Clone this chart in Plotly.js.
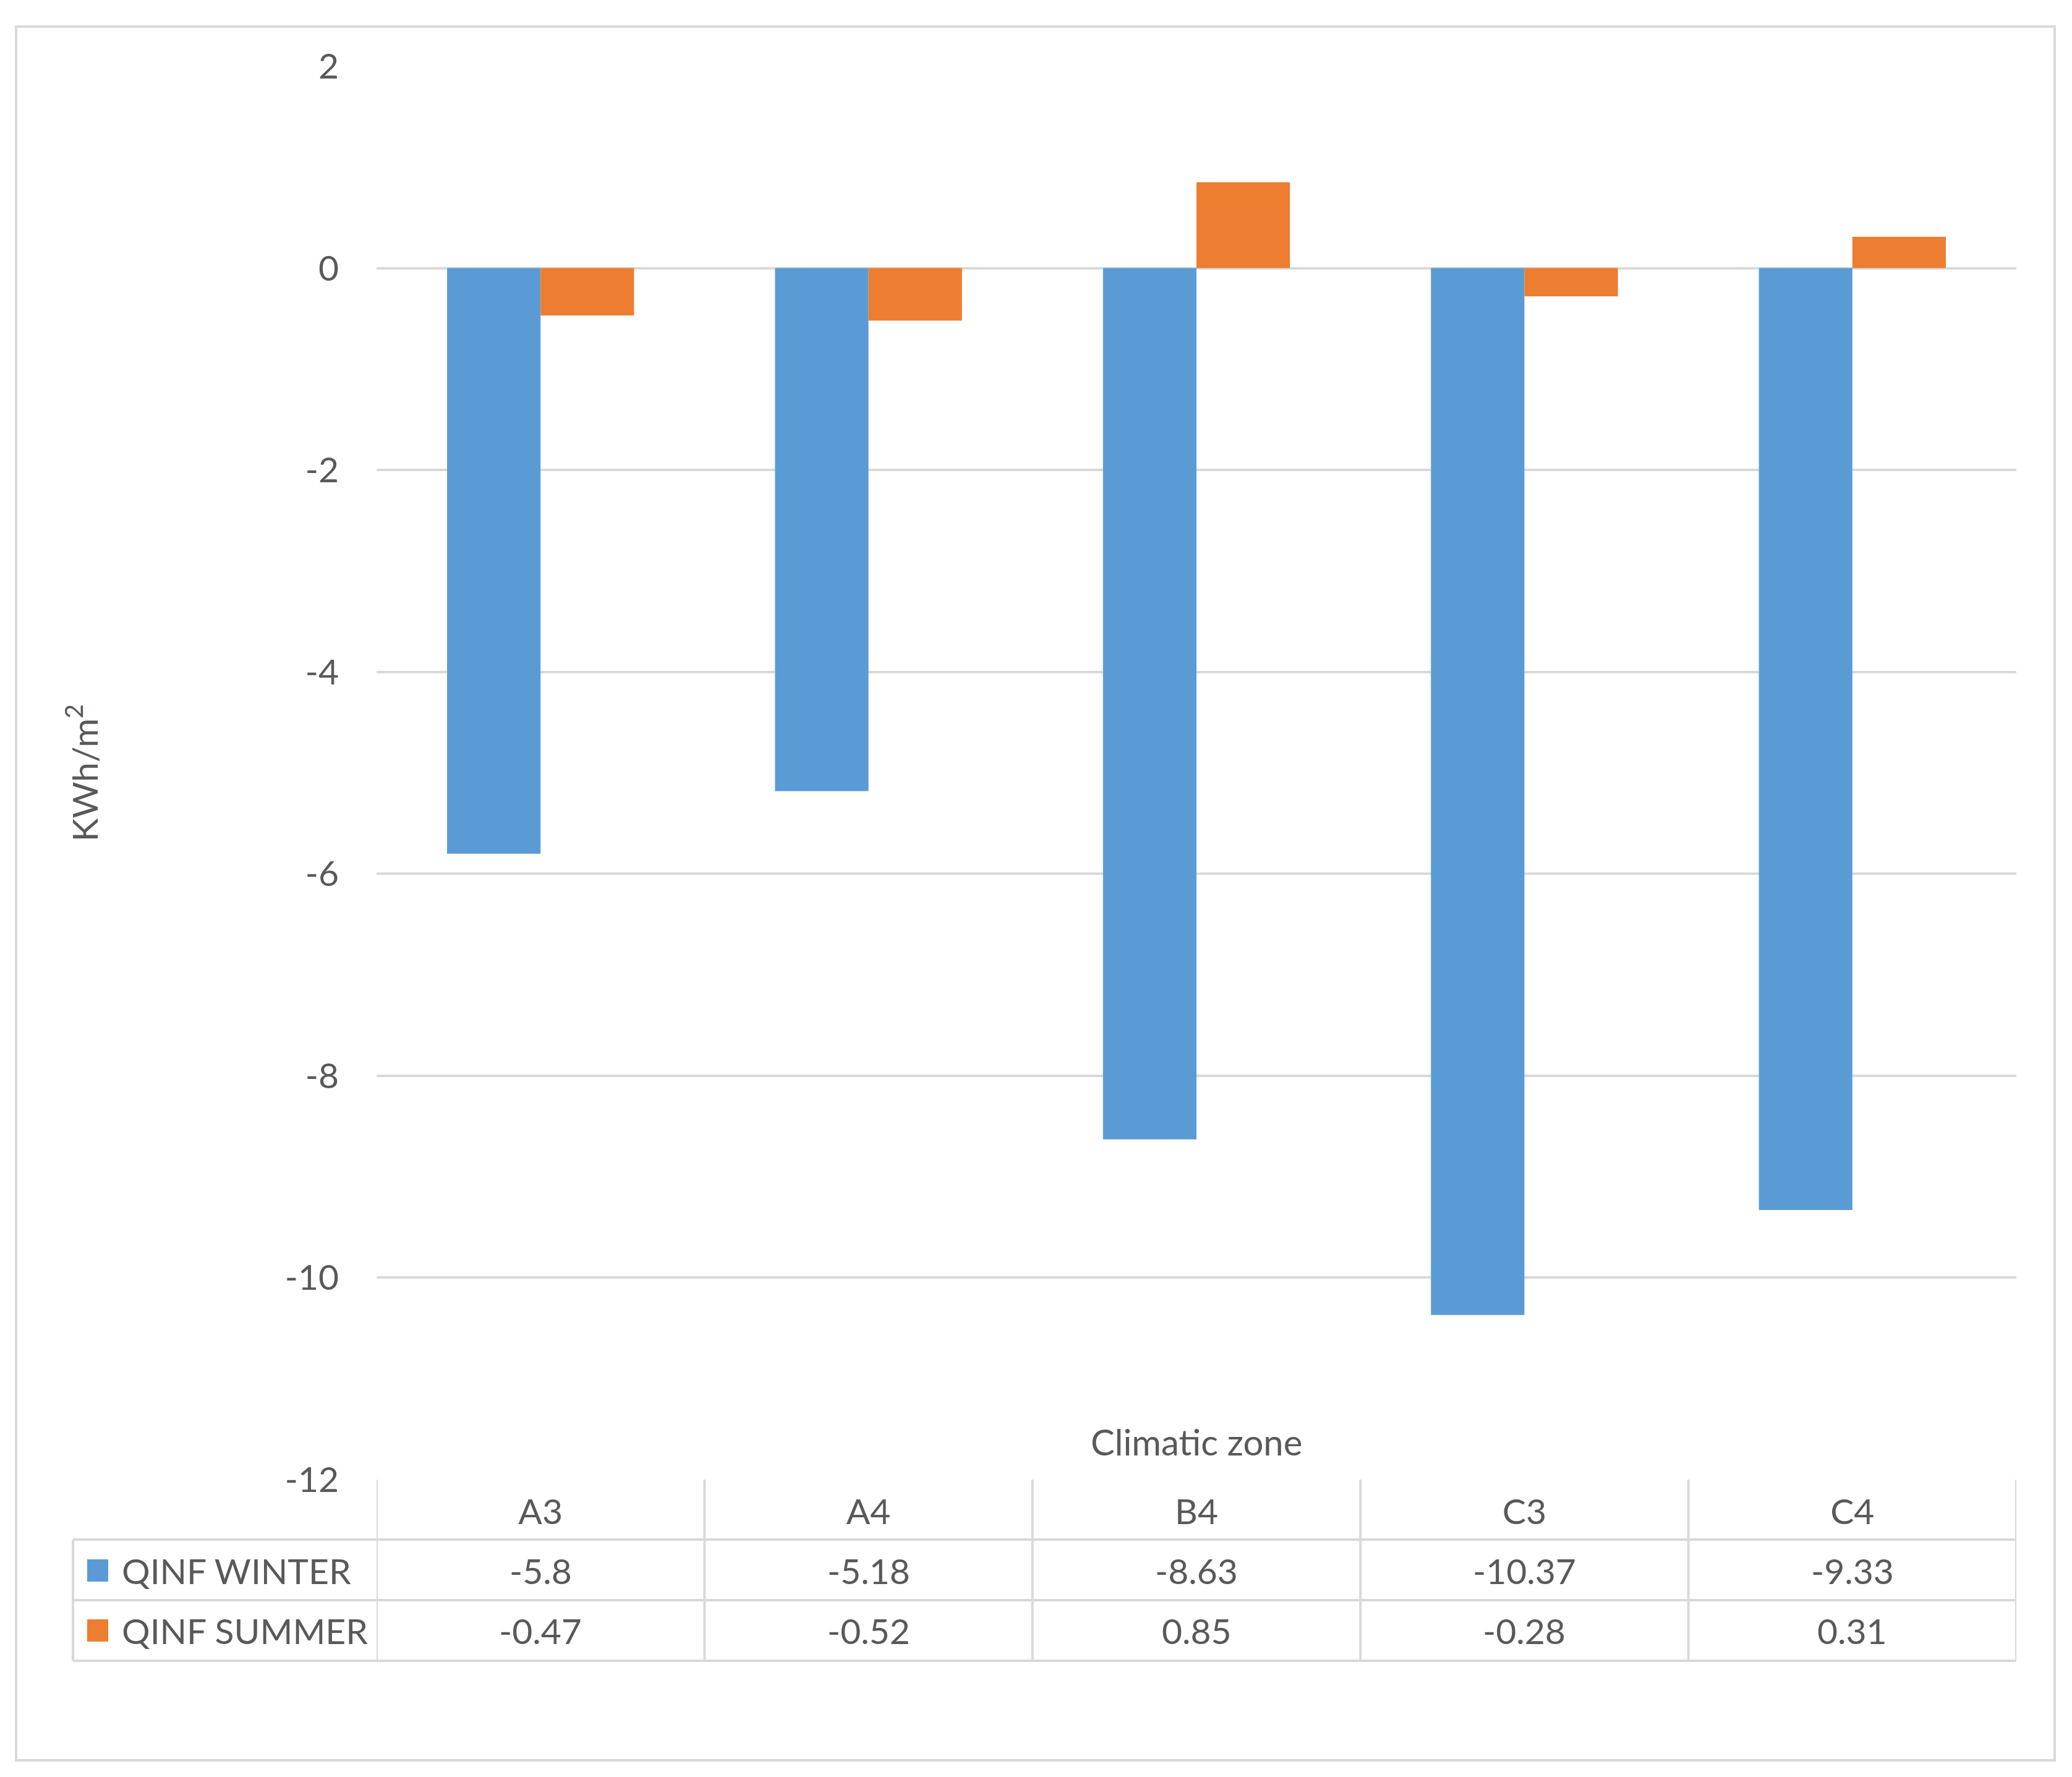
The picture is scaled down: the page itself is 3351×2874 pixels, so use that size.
<!DOCTYPE html>
<html>
<head>
<meta charset="utf-8">
<script src="https://cdn.plot.ly/plotly-3.0.1.min.js"></script>
<style>html,body{margin:0;padding:0;background:#fff;}#chart{width:3351px;height:2874px;}</style>
</head>
<body>
<div id="chart"></div>
<script>
const categories = ['A3', 'A4', 'B4', 'C3', 'C4'];
const winter = [-5.8, -5.18, -8.63, -10.37, -9.33];
const summer = [-0.47, -0.52, 0.85, -0.28, 0.31];
const seriesNames = ['QINF WINTER', 'QINF SUMMER'];
const yTickValues = [2, 0, -2, -4, -6, -8, -10, -12];
const yTitle = 'KWh/m<sup>2</sup>';
const xTitle = 'Climatic zone';

const colors = ['#5B9BD5', '#ED7D31'];
const textColor = '#595959';
const gridColor = '#D9D9D9';
const font = 'Lato, "Open Sans", sans-serif';
const fs = 57;

const W = 3351, H = 2874;
const plotL = 609, plotR = 3261, plotT = 107, plotB = 2393;
const px2x = p => (p - plotL) / (plotR - plotL);
const px2y = p => (plotB - p) / (plotB - plotT);

const traces = [
  {type: 'bar', name: seriesNames[0], x: categories, y: winter, marker: {color: colors[0]}, hoverinfo: 'x+y'},
  {type: 'bar', name: seriesNames[1], x: categories, y: summer, marker: {color: colors[1]}, hoverinfo: 'x+y'}
];

// table geometry (pixels)
const rowLines = [2393, 2490, 2588, 2686];
const rowCenters = [2441, 2540, 2637];
const leftColX = 118;

const shapes = [];
const lineStyle = {color: gridColor, width: 4};
// outer chart border
shapes.push({type: 'rect', xref: 'paper', yref: 'paper', x0: px2x(26), x1: px2x(3323), y0: px2y(2847), y1: px2y(43), line: {color: gridColor, width: 4}, layer: 'below'});
// horizontal table lines
for (let k = 1; k < rowLines.length; k++) {
  shapes.push({type: 'line', xref: 'paper', yref: 'paper', x0: px2x(leftColX), x1: 1, y0: px2y(rowLines[k]), y1: px2y(rowLines[k]), line: lineStyle});
}
// vertical table lines at category boundaries
for (let i = 0; i <= categories.length; i++) {
  shapes.push({type: 'line', xref: 'x', yref: 'paper', x0: i - 0.5, x1: i - 0.5, y0: 0, y1: px2y(rowLines[3]), line: lineStyle});
}
// left column outer edge
shapes.push({type: 'line', xref: 'paper', yref: 'paper', x0: px2x(leftColX), x1: px2x(leftColX), y0: px2y(rowLines[1]), y1: px2y(rowLines[3]), line: lineStyle});
// legend keys
const series = [winter, summer];
for (let s = 0; s < 2; s++) {
  const c = rowCenters[s + 1];
  shapes.push({type: 'rect', xref: 'paper', yref: 'paper', x0: px2x(141), x1: px2x(175), y0: px2y(c + 18), y1: px2y(c - 18), fillcolor: colors[s], line: {width: 0}});
}

const annotations = [];
annotations.push({xref: 'paper', yref: 'paper', x: 0.5, y: px2y(2331), text: xTitle, showarrow: false, font: {family: font, size: fs + 1, color: textColor}, xanchor: 'center', yanchor: 'middle'});
for (let s = 0; s < 2; s++) {
  const yc = px2y(rowCenters[s + 1]);
  annotations.push({xref: 'paper', yref: 'paper', x: px2x(195), y: yc, text: seriesNames[s], showarrow: false, xanchor: 'left', yanchor: 'middle', font: {family: font, size: fs, color: textColor}});
  for (let i = 0; i < categories.length; i++) {
    annotations.push({xref: 'x', yref: 'paper', x: categories[i], y: yc, text: String(series[s][i]), showarrow: false, xanchor: 'center', yanchor: 'middle', font: {family: font, size: fs, color: textColor}});
  }
}

const layout = {
  width: W, height: H,
  paper_bgcolor: '#ffffff', plot_bgcolor: '#ffffff',
  font: {family: font, size: fs, color: textColor},
  margin: {l: plotL, r: W - plotR, t: plotT, b: H - plotB, pad: 0},
  showlegend: false,
  barmode: 'group', bargap: 0.43, bargroupgap: 0,
  xaxis: {
    type: 'category', categoryorder: 'array', categoryarray: categories,
    range: [-0.5, categories.length - 0.5],
    showgrid: false, zeroline: false, showline: false, ticks: '',
    tickfont: {family: font, size: fs, color: textColor},
    ticklabelstandoff: 14, automargin: false, fixedrange: true
  },
  yaxis: {
    range: [-12, 2], tickvals: yTickValues, ticktext: yTickValues.map(String),
    showgrid: true, gridcolor: gridColor, gridwidth: 4,
    zeroline: true, zerolinecolor: gridColor, zerolinewidth: 4,
    showline: false, ticks: '', ticklabelstandoff: 60,
    tickfont: {family: font, size: fs, color: textColor},
    title: {text: yTitle, standoff: 283, font: {family: font, size: fs, color: textColor}},
    automargin: false, fixedrange: true
  },
  shapes: shapes,
  annotations: annotations
};

Plotly.newPlot('chart', traces, layout, {staticPlot: true, displayModeBar: false});
</script>
</body>
</html>
